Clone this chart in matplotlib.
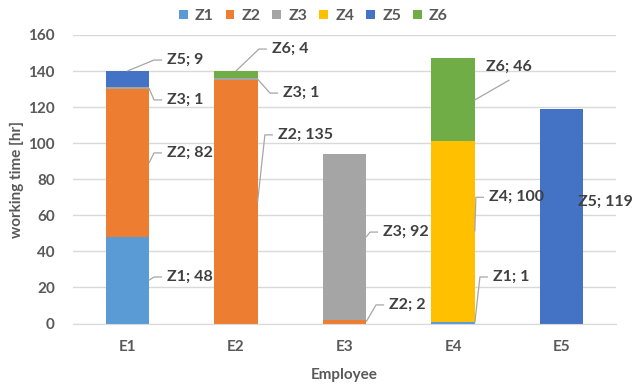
import numpy as np
import matplotlib
matplotlib.use('Agg')
import matplotlib.pyplot as plt

employees = ['E1', 'E2', 'E3', 'E4', 'E5']
zones = ['Z1', 'Z2', 'Z3', 'Z4', 'Z5', 'Z6']

z1_hours = [48, 0, 0, 1, 0]
z2_hours = [82, 135, 2, 0, 0]
z3_hours = [1, 1, 92, 0, 0]
z4_hours = [0, 0, 0, 100, 0]
z5_hours = [9, 0, 0, 0, 119]
z6_hours = [0, 4, 0, 46, 0]

zone_colors = ['#5B9BD5', '#ED7D31', '#A5A5A5', '#FFC000', '#4472C4', '#70AD47']

# where each data label sits: (employee, zone) -> (x offset from bar centre, y, leader, anchor)
label_layout = {
    (0, 4): (0.366, 146.1, 'side', 'top'),
    (0, 2): (0.366, 124.0, 'side', 'right'),
    (0, 1): (0.366, 94.6, 'side', 'right'),
    (0, 0): (0.366, 25.8, 'side', 'right'),
    (1, 5): (0.332, 152.2, 'side', 'top'),
    (1, 2): (0.434, 127.8, 'side', 'right'),
    (1, 1): (0.387, 104.6, 'side', 'right'),
    (2, 2): (0.355, 50.7, 'side', 'right'),
    (2, 1): (0.410, 10.3, 'side', 'right'),
    (3, 5): (0.303, 142.3, (0.515, 134.9), 'right'),
    (3, 3): (0.330, 70.0, 'side', 'right'),
    (3, 0): (0.367, 25.8, 'side', 'right'),
    (4, 4): (0.150, 67.3, None, None),
}

plt.rcParams['font.family'] = ['Lato', 'DejaVu Sans']
text_grey = '#595959'
label_grey = '#404040'
leader_grey = '#A6A6A6'

fig = plt.figure(figsize=(6.33, 3.85), dpi=100)
ax = fig.add_axes([73 / 633, 61.5 / 385, 543 / 633, 288.5 / 385])

hours = np.array([z1_hours, z2_hours, z3_hours, z4_hours, z5_hours, z6_hours], dtype=float)
x = np.arange(len(employees))
bar_width = 0.4
bottoms = np.zeros(len(employees))
for zi, zone in enumerate(zones):
    ax.bar(x, hours[zi], bar_width, bottom=bottoms, color=zone_colors[zi], label=zone, zorder=2)
    for ei in range(len(employees)):
        if hours[zi, ei] == 0:
            continue
        dx, ty, leader, anchor = label_layout[(ei, zi)]
        tx = x[ei] + dx
        seg_mid = bottoms[ei] + hours[zi, ei] / 2
        if anchor == 'top':
            start = (x[ei], bottoms[ei] + hours[zi, ei])
        else:
            start = (x[ei] + bar_width / 2, seg_mid)
        if leader == 'side':
            ax.plot([start[0], tx - 0.12, tx - 0.046], [start[1], ty, ty],
                    color=leader_grey, lw=0.9, zorder=3, solid_capstyle='butt')
        elif leader is not None:
            ax.plot([start[0], x[ei] + leader[0]], [start[1], leader[1]],
                    color=leader_grey, lw=0.9, zorder=3)
        ax.text(tx, ty, '{}; {}'.format(zone, int(hours[zi, ei])), ha='left', va='center',
                fontsize=11.5, fontweight='bold', color=label_grey, zorder=4)
    bottoms += hours[zi]

ax.set_xlim(-0.5, 4.5)
ax.set_ylim(0, 160)
ax.set_yticks(np.arange(0, 161, 20))
ax.set_xticks(x)
ax.set_xticklabels(employees)
ax.grid(axis='y', color='#D9D9D9', lw=1, zorder=0)
for side in ['top', 'right', 'left']:
    ax.spines[side].set_visible(False)
ax.spines['bottom'].set_color('#D9D9D9')
ax.tick_params(axis='both', length=0, labelsize=11, labelcolor=text_grey)
ax.tick_params(axis='y', pad=13)
ax.tick_params(axis='x', pad=12)
for lbl in ax.get_xticklabels() + ax.get_yticklabels():
    lbl.set_fontweight('bold')

ax.set_xlabel('Employee', fontsize=11, color=text_grey, fontweight='bold', labelpad=10)
fig.text(17 / 633, 0.5 * (61.5 + 350) / 385, 'working time [hr]', rotation=90, ha='center', va='center',
         fontsize=11, color=text_grey, fontweight='bold')

fig.legend(loc='center', bbox_to_anchor=(0.495, 1 - 16 / 385), ncol=6, frameon=False,
           handlelength=0.55, handleheight=0.55, handletextpad=0.45,
           columnspacing=0.75, labelcolor=text_grey, prop={'weight': 'bold', 'size': 11.5})

fig.savefig('out.png', dpi=100)
